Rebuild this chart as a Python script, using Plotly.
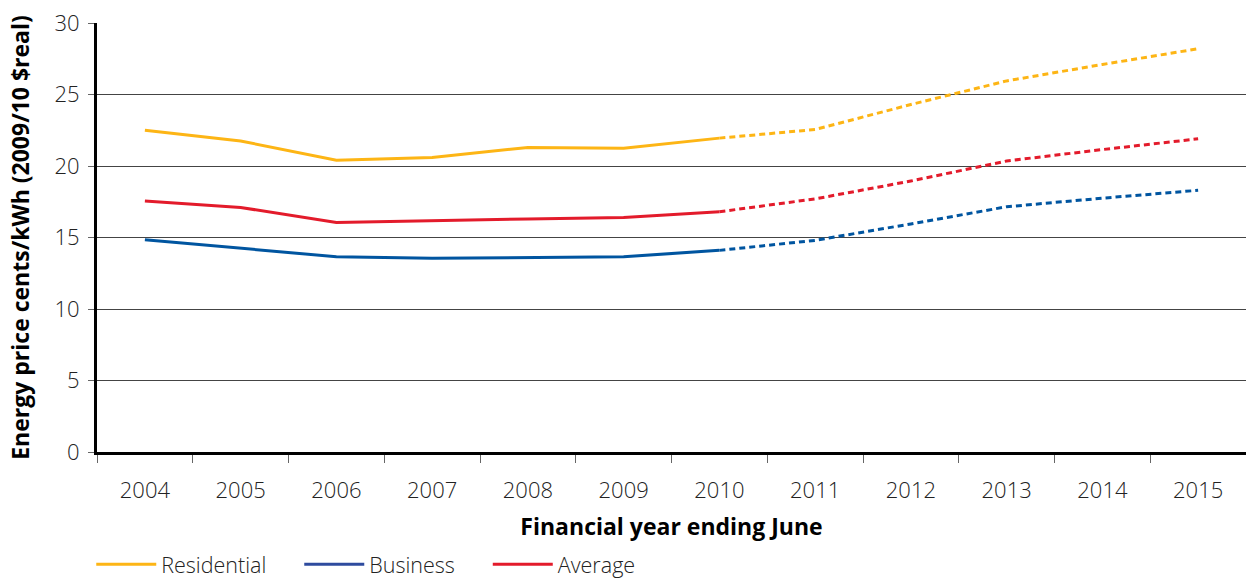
import plotly.graph_objects as go

years = ["2004", "2005", "2006", "2007", "2008", "2009", "2010",
         "2011", "2012", "2013", "2014", "2015"]
residential = [22.5, 21.75, 20.4, 20.6, 21.3, 21.25, 21.95, 22.55, 24.3, 25.95, 27.1, 28.2]
business = [14.85, 14.25, 13.65, 13.55, 13.6, 13.65, 14.1, 14.8, 15.95, 17.15, 17.75, 18.3]
average = [17.55, 17.1, 16.05, 16.2, 16.3, 16.4, 16.8, 17.7, 18.95, 20.35, 21.15, 21.9]
actual_end = 7  # actual values through 2010, projections after

series = [
    ("Residential", residential, "#FDB515", "#FDB515"),
    ("Business", business, "#0055A0", "#2E4B9E"),
    ("Average", average, "#E31B2B", "#E31B2B"),
]

PAD = "\u00a0" * 5
FONT = "Open Sans"
fig = go.Figure()
for name, vals, col, legcol in series:
    fig.add_trace(go.Scatter(
        x=years[:actual_end], y=vals[:actual_end], mode="lines", name=name,
        line=dict(color=col, width=3), showlegend=False))
    fig.add_trace(go.Scatter(
        x=years[actual_end - 1:], y=vals[actual_end - 1:], mode="lines", name=name,
        line=dict(color=col, width=3, dash="6px,4px"), showlegend=False))
    fig.add_trace(go.Scatter(
        x=[None], y=[None], mode="lines", name=name + PAD,
        line=dict(color=legcol, width=3), showlegend=True))

fig.update_layout(
    width=1246, height=579,
    margin=dict(l=97, r=0, t=23, b=127, autoexpand=False),
    paper_bgcolor="white", plot_bgcolor="white",
    font=dict(family=FONT, size=22, color="#222222", weight=300),
    legend=dict(orientation="h", x=-0.005, xanchor="left", y=-0.214, yanchor="top",
                font=dict(size=21.5, color="#222222", family=FONT, weight=300),
                itemwidth=60, tracegroupgap=0),
    xaxis=dict(
        type="category", categoryorder="array", categoryarray=years,
        range=[-0.5, 11.5], automargin=False,
        tickson="boundaries", ticks="outside", ticklen=8, tickcolor="#666666", tickwidth=1,
        ticklabelstandoff=17,
        showline=True, linecolor="black", linewidth=3,
        showgrid=False, zeroline=False,
        tickfont=dict(size=22, color="#222222"),
        title=dict(text="<b>Financial year ending June</b>", standoff=16,
                   font=dict(size=23, color="black", family=FONT, weight=700)),
    ),
    yaxis=dict(
        range=[0, 30], dtick=5, tick0=0, automargin=False,
        ticks="outside", ticklen=6, tickcolor="#666666", tickwidth=1,
        ticklabelstandoff=4,
        showline=True, linecolor="black", linewidth=3,
        showgrid=True, gridcolor="#444444", gridwidth=1,
        zeroline=False,
        tickfont=dict(size=22, color="#222222"),
        title=dict(text="<b>Energy price cents/kWh (2009/10 $real)</b>", standoff=19,
                   font=dict(size=23, color="black", family=FONT, weight=700)),
    ),
)

fig.write_html("out.html")
